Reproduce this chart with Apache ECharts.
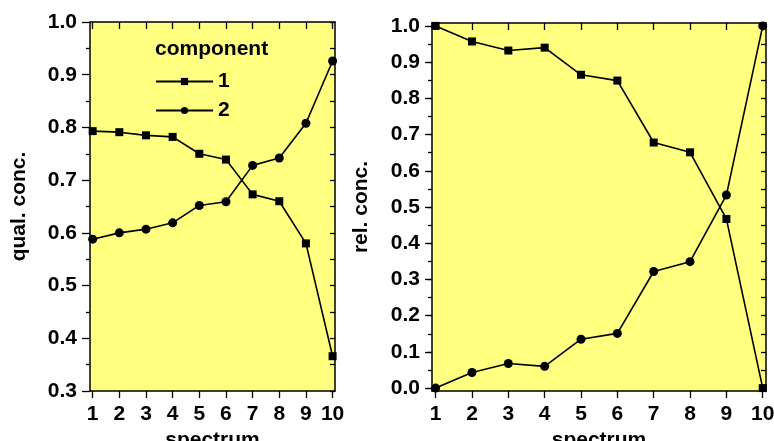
<!DOCTYPE html>
<html>
<head>
<meta charset="utf-8">
<script src="https://cdn.jsdelivr.net/npm/echarts@6/dist/echarts.min.js"></script>
<style>
  html, body { margin: 0; padding: 0; background: #ffffff; }
  #chart { width: 774px; height: 441px; }
</style>
</head>
<body>
<div id="chart"></div>
<script>
// Spectrum index shared by both panels
const spectra = [1, 2, 3, 4, 5, 6, 7, 8, 9, 10];

// Qualitative concentrations (left panel)
const qualComp1 = [0.793, 0.791, 0.785, 0.782, 0.750, 0.739, 0.673, 0.660, 0.580, 0.366];
const qualComp2 = [0.588, 0.600, 0.607, 0.619, 0.652, 0.659, 0.728, 0.742, 0.808, 0.926];

// Relative concentrations (right panel)
const relComp1 = [1.000, 0.957, 0.932, 0.940, 0.865, 0.849, 0.678, 0.651, 0.467, 0.000];
const relComp2 = [0.000, 0.043, 0.068, 0.060, 0.135, 0.151, 0.322, 0.349, 0.533, 1.000];

// Tick labels
const qualTicks = [0.3, 0.4, 0.5, 0.6, 0.7, 0.8, 0.9, 1.0];
const relTicks = [0.0, 0.1, 0.2, 0.3, 0.4, 0.5, 0.6, 0.7, 0.8, 0.9, 1.0];
const relMinorTicks = [0, 0.05, 0.1, 0.15, 0.2, 0.25, 0.3, 0.35, 0.4, 0.45, 0.5, 0.55, 0.6, 0.65, 0.7, 0.75, 0.8, 0.85, 0.9, 0.95, 1.0];

const componentNames = ['1', '2'];

const FONT = 'Liberation Sans, Arial, sans-serif';
const FS = 21;
const INK = '#000000';
const PLOT_BG = '#ffff80';

const pairs = (ys) => spectra.map((x, i) => [x, ys[i]]);
const textStyle = { fontFamily: FONT, fontWeight: 'bold', fontSize: FS, color: INK };

function xAxisPair(gridIndex) {
  const common = {
    gridIndex: gridIndex,
    type: 'value',
    min: 0.9,
    max: 10.09,
    splitLine: { show: false },
    axisLine: { show: true, onZero: false, lineStyle: { color: INK, width: 1.5 } }
  };
  return [
    Object.assign({}, common, {
      position: 'bottom',
      name: 'spectrum',
      nameLocation: 'middle',
      nameGap: 26,
      nameTextStyle: textStyle,
      axisTick: { show: true, inside: false, length: 7, customValues: spectra, lineStyle: { color: INK, width: 1.3 } },
      axisLabel: Object.assign({
        show: true, margin: 13, customValues: spectra,
        formatter: (v) => String(Math.round(v))
      }, textStyle)
    }),
    Object.assign({}, common, {
      position: 'top',
      axisTick: { show: true, inside: true, length: 7, customValues: spectra, lineStyle: { color: INK, width: 1.3 } },
      axisLabel: { show: false }
    })
  ];
}

const axisLineStyle = { show: true, onZero: false, lineStyle: { color: INK, width: 1.5 } };

const option = {
  animation: false,
  backgroundColor: '#ffffff',
  grid: [
    { left: 90, top: 22, width: 245, height: 369, show: true, backgroundColor: PLOT_BG, borderWidth: 0, outerBoundsMode: 'none', containLabel: false },
    { left: 432, top: 23, width: 334, height: 368, show: true, backgroundColor: PLOT_BG, borderWidth: 0, outerBoundsMode: 'none', containLabel: false }
  ],
  xAxis: [].concat(xAxisPair(0), xAxisPair(1)),
  yAxis: [
    // left panel, left side
    {
      gridIndex: 0, type: 'value', position: 'left',
      min: 0.3, max: 1.0, interval: 0.1,
      name: 'qual. conc.', nameLocation: 'middle', nameGap: 60, nameTextStyle: textStyle,
      splitLine: { show: false },
      axisLine: axisLineStyle,
      axisTick: { show: true, inside: false, length: 8, lineStyle: { color: INK, width: 1.3 } },
      minorTick: { show: true, splitNumber: 2, length: 4, lineStyle: { color: INK, width: 1.3 } },
      axisLabel: Object.assign({ margin: 13, customValues: qualTicks, formatter: (v) => v.toFixed(1) }, textStyle)
    },
    // left panel, right side
    {
      gridIndex: 0, type: 'value', position: 'right',
      min: 0.3, max: 1.0, interval: 0.1,
      splitLine: { show: false },
      axisLine: axisLineStyle,
      axisTick: { show: true, inside: true, length: 5, lineStyle: { color: INK, width: 1.3 } },
      minorTick: { show: true, splitNumber: 2, length: 5, lineStyle: { color: INK, width: 1.3 } },
      axisLabel: { show: false }
    },
    // right panel, left side (major ticks and labels)
    {
      gridIndex: 1, type: 'value', position: 'left',
      min: -0.008, max: 1.008,
      name: 'rel. conc.', nameLocation: 'middle', nameGap: 60, nameTextStyle: textStyle,
      splitLine: { show: false },
      axisLine: axisLineStyle,
      axisTick: { show: true, inside: false, length: 7, customValues: relTicks, lineStyle: { color: INK, width: 1.3 } },
      axisLabel: Object.assign({ margin: 12, customValues: relTicks, formatter: (v) => v.toFixed(1) }, textStyle)
    },
    // right panel, left side (half-step ticks)
    {
      gridIndex: 1, type: 'value', position: 'left',
      min: -0.008, max: 1.008,
      splitLine: { show: false },
      axisLine: { show: false, onZero: false },
      axisTick: { show: true, inside: false, length: 4, customValues: relMinorTicks, lineStyle: { color: INK, width: 1.3 } },
      axisLabel: { show: false }
    },
    // right panel, right side
    {
      gridIndex: 1, type: 'value', position: 'right',
      min: -0.008, max: 1.008,
      splitLine: { show: false },
      axisLine: axisLineStyle,
      axisTick: { show: true, inside: true, length: 5, customValues: relMinorTicks, lineStyle: { color: INK, width: 1.3 } },
      axisLabel: { show: false }
    }
  ],
  legend: {
    left: 155, top: 71, orient: 'vertical', padding: 0,
    itemWidth: 57, itemHeight: 9, itemGap: 8,
    data: componentNames,
    selectedMode: false,
    textStyle: textStyle
  },
  graphic: [
    {
      type: 'text', left: 155, top: 39,
      style: { text: 'component', fontFamily: FONT, fontWeight: 'bold', fontSize: FS, fill: INK }
    }
  ],
  series: [
    {
      name: componentNames[0], type: 'line', xAxisIndex: 0, yAxisIndex: 0,
      data: pairs(qualComp1), symbol: 'rect', symbolSize: 8, clip: false,
      lineStyle: { color: INK, width: 1.6 }, itemStyle: { color: INK }
    },
    {
      name: componentNames[1], type: 'line', xAxisIndex: 0, yAxisIndex: 0,
      data: pairs(qualComp2), symbol: 'circle', symbolSize: 9, clip: false,
      lineStyle: { color: INK, width: 1.6 }, itemStyle: { color: INK }
    },
    {
      name: componentNames[0], type: 'line', xAxisIndex: 2, yAxisIndex: 2,
      data: pairs(relComp1), symbol: 'rect', symbolSize: 8, clip: false,
      lineStyle: { color: INK, width: 1.6 }, itemStyle: { color: INK }
    },
    {
      name: componentNames[1], type: 'line', xAxisIndex: 2, yAxisIndex: 2,
      data: pairs(relComp2), symbol: 'circle', symbolSize: 9, clip: false,
      lineStyle: { color: INK, width: 1.6 }, itemStyle: { color: INK }
    }
  ]
};

const chart = echarts.init(document.getElementById('chart'), null, { renderer: 'canvas' });
chart.setOption(option);
</script>
</body>
</html>
